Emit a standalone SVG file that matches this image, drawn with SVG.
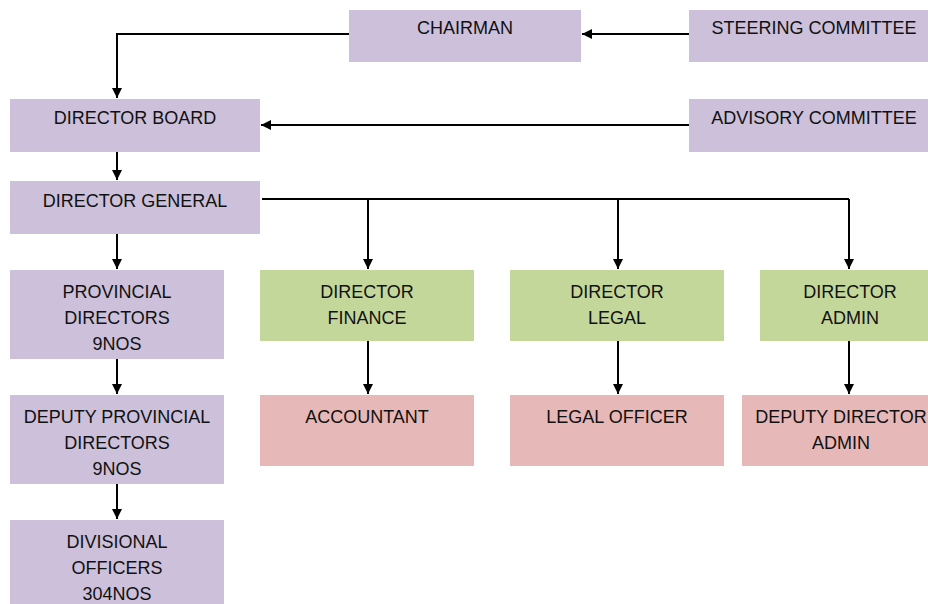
<svg xmlns="http://www.w3.org/2000/svg" width="928" height="604" viewBox="0 0 928 604">
<style>
.p{fill:#CCC0DA}
.g{fill:#C4D79B}
.r{fill:#E6B8B7}
text{font-family:"Liberation Sans",Arial,sans-serif;font-size:18px;fill:#111;text-anchor:middle}
.c{fill:none;stroke:#000;stroke-width:2}
</style>
<defs>
<marker id="ah" viewBox="0 0 10 10" refX="10" refY="5" markerWidth="5" markerHeight="5" orient="auto" markerUnits="strokeWidth">
<path d="M0,0 L10,5 L0,10 Z" fill="#000"/>
</marker>
</defs>
<rect width="928" height="604" fill="#fff"/>
<g id="connectors">
<path class="c" d="M349,34 H117 V98" marker-end="url(#ah)"/>
<path class="c" d="M689,34 H582" marker-end="url(#ah)"/>
<path class="c" d="M689,125 H261" marker-end="url(#ah)"/>
<path class="c" d="M117,152 V180" marker-end="url(#ah)"/>
<path class="c" d="M117,234 V269" marker-end="url(#ah)"/>
<path class="c" d="M117,359 V394" marker-end="url(#ah)"/>
<path class="c" d="M117,484 V519" marker-end="url(#ah)"/>
<path class="c" d="M262,199 H849"/>
<path class="c" d="M368,199 V269" marker-end="url(#ah)"/>
<path class="c" d="M618,199 V269" marker-end="url(#ah)"/>
<path class="c" d="M849,199 V269" marker-end="url(#ah)"/>
<path class="c" d="M368,341 V394" marker-end="url(#ah)"/>
<path class="c" d="M618,341 V394" marker-end="url(#ah)"/>
<path class="c" d="M849,341 V394" marker-end="url(#ah)"/>
</g>
<g id="chairman"><rect class="p" x="349" y="10" width="232" height="52"/><text x="465" y="34">CHAIRMAN</text></g>
<g id="steering"><rect class="p" x="689" y="10" width="250" height="52"/><text x="814" y="34">STEERING COMMITTEE</text></g>
<g id="board"><rect class="p" x="10" y="99" width="250" height="53"/><text x="135" y="124">DIRECTOR BOARD</text></g>
<g id="advisory"><rect class="p" x="689" y="99" width="250" height="53"/><text x="814" y="124">ADVISORY COMMITTEE</text></g>
<g id="dg"><rect class="p" x="10" y="181" width="250" height="53"/><text x="135" y="207">DIRECTOR GENERAL</text></g>
<g id="provincial"><rect class="p" x="10" y="270" width="214" height="89"/><text x="117" y="298">PROVINCIAL</text><text x="117" y="324">DIRECTORS</text><text x="117" y="350">9NOS</text></g>
<g id="deputy-provincial"><rect class="p" x="10" y="395" width="214" height="89"/><text x="117" y="423">DEPUTY PROVINCIAL</text><text x="117" y="449">DIRECTORS</text><text x="117" y="475">9NOS</text></g>
<g id="divisional"><rect class="p" x="10" y="520" width="214" height="89"/><text x="117" y="548">DIVISIONAL</text><text x="117" y="574">OFFICERS</text><text x="117" y="600">304NOS</text></g>
<g id="finance"><rect class="g" x="260" y="270" width="214" height="71"/><text x="367" y="298">DIRECTOR</text><text x="367" y="324">FINANCE</text></g>
<g id="legal"><rect class="g" x="510" y="270" width="214" height="71"/><text x="617" y="298">DIRECTOR</text><text x="617" y="324">LEGAL</text></g>
<g id="admin"><rect class="g" x="760" y="270" width="180" height="71"/><text x="850" y="298">DIRECTOR</text><text x="850" y="324">ADMIN</text></g>
<g id="accountant"><rect class="r" x="260" y="395" width="214" height="71"/><text x="367" y="423">ACCOUNTANT</text></g>
<g id="legal-officer"><rect class="r" x="510" y="395" width="214" height="71"/><text x="617" y="423">LEGAL OFFICER</text></g>
<g id="deputy-admin"><rect class="r" x="742" y="395" width="198" height="71"/><text x="841" y="423">DEPUTY DIRECTOR</text><text x="841" y="449">ADMIN</text></g>
</svg>
